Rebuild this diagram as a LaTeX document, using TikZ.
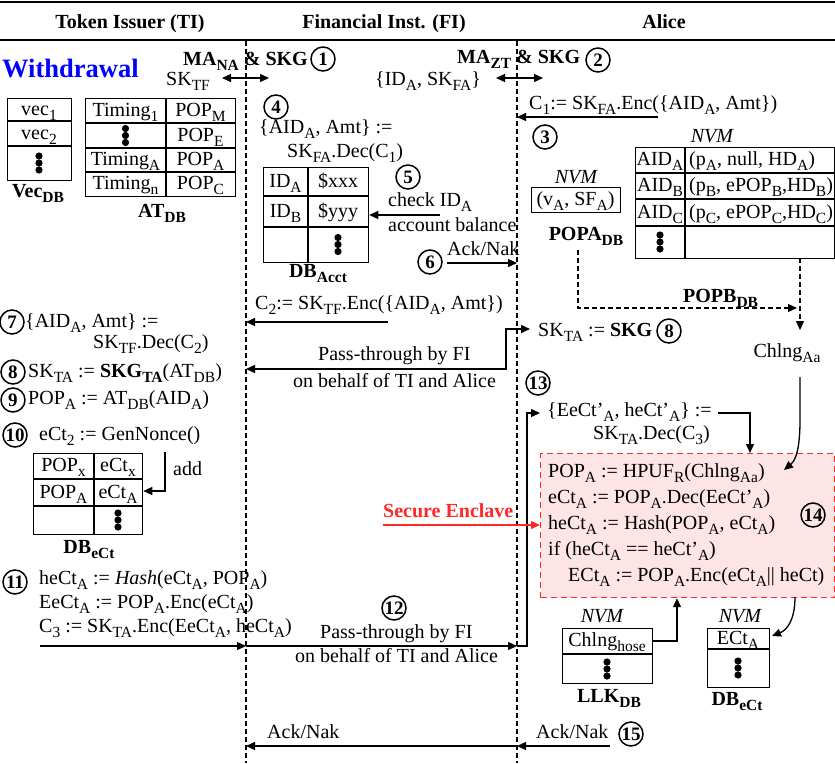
\documentclass[tikz,border=0pt]{standalone}
\usepackage{fontspec}
\setmainfont{Liberation Serif}
\usetikzlibrary{arrows.meta}
\newcommand\mainsz{\fontsize{20}{24}\selectfont}
\newcommand\ssub[1]{\raisebox{-5pt}{\fontsize{15.5}{15.5}\selectfont #1}}
\definecolor{encfill}{RGB}{253,228,229}
\definecolor{encred}{RGB}{255,40,40}
\definecolor{wblue}{RGB}{0,0,255}
\begin{document}
\begin{tikzpicture}[x=1pt,y=-1pt,
  txt/.style={inner sep=0pt,anchor=base west,font=\mainsz},
  btxtw/.style={inner sep=0pt,anchor=base west,font=\mainsz\bfseries},
  ctxt/.style={inner sep=0pt,anchor=base,font=\mainsz},
  btxt/.style={inner sep=0pt,anchor=base,font=\mainsz\bfseries},
  nvm/.style={inner sep=0pt,anchor=base,font=\mainsz\itshape},
  num/.style={circle,draw,line width=1.5pt,inner sep=0pt,minimum size=24pt,font=\bfseries\fontsize{19}{19}\selectfont},
  tbl/.style={draw,line width=1.3pt,inner sep=0pt,anchor=north west},
  tline/.style={line width=1.3pt},
  arr/.style={line width=1.3pt,-{Triangle[length=9pt,width=8pt]}},
  darr/.style={line width=1.3pt,{Triangle[length=9pt,width=8pt]}-{Triangle[length=9pt,width=8pt]}},
  dasharr/.style={line width=1.2pt,dash pattern=on 5pt off 3pt,-{Triangle[length=9pt,width=8pt]}},
  life/.style={line width=1.2pt,dash pattern=on 5pt off 3pt},
  tdots/.pic={\fill (0,-7) circle[radius=3.6pt]; \fill (0,0) circle[radius=3.6pt]; \fill (0,7) circle[radius=3.6pt];}
]
\useasboundingbox (0,0) rectangle (835,763);

% header
\draw[line width=2.2pt] (0,2) -- (835,2);
\draw[line width=2pt] (0,40) -- (835,40);
\node[btxt] (hti) at (130,28) {Token Issuer (TI)};
\node[btxt] (hfi) at (384,28) {Financial Inst. (FI)};
\node[btxt] (hal) at (664,28) {Alice};

% lifelines
\coordinate (la0) at (246,41); \coordinate (la1) at (246,763);
\coordinate (lb0) at (517,41); \coordinate (lb1) at (517,763);
\draw[life] (la0) -- (la1);
\draw[life] (lb0) -- (lb1);

\node[inner sep=0pt,anchor=base west,font=\fontsize{26.5}{26.5}\selectfont\bfseries,text=wblue] (wd) at (2,77) {Withdrawal};

% step 1
\node[btxtw] (ma1) at (183,65) {MA\ssub{NA} \& SKG};
\node[num] (n1) at (323,59) {1};
\node[txt] (sktf) at (166,85) {SK\ssub{TF}};
\coordinate (d1a) at (222,78); \coordinate (d1b) at (269,78);
\draw[darr] (d1a) -- (d1b);

% step 2
\node[btxtw] (ma2) at (457,63) {MA\ssub{ZT} \& SKG};
\node[num] (n2) at (598,60) {2};
\node[txt] (idsk) at (375,85) {\{ID\ssub{A}, SK\ssub{FA}\}};
\coordinate (d2a) at (496,78); \coordinate (d2b) at (543,78);
\draw[darr] (d2a) -- (d2b);

% step 3
\node[txt] (c1) at (529,109) {C\ssub{1}:= SK\ssub{FA}.Enc(\{AID\ssub{A}, Amt\})};
\coordinate (a3) at (658,117);
\draw[arr] (a3) -- (a3 -| lb0);
\node[num] (n3) at (545,137) {3};

% step 4
\node[num] (n4) at (276,107) {4};
\node[txt] (dec1a) at (259,133) {\{AID\ssub{A}, Amt\} :=};
\node[txt] (dec1b) at (287,157) {SK\ssub{FA}.Dec(C\ssub{1})};

% Vec DB
\node[tbl,minimum width=64pt,minimum height=82pt] (vec) at (7,98) {};
\draw[tline] (7,121) -- (71,121) (7,146) -- (71,146);
\node[ctxt] (vec1) at (39,115) {vec\ssub{1}};
\node[ctxt] (vec2) at (39,139) {vec\ssub{2}};
\pic at (39,163) {tdots};
\node[btxt] (veclbl) at (38,197) {Vec\ssub{DB}};

% AT DB
\node[tbl,minimum width=150pt,minimum height=98pt] (at) at (85,98) {};
\draw[tline] (166,98) -- (166,196) (85,123) -- (235,123) (85,148) -- (235,148) (85,172) -- (235,172);
\node[ctxt] (at11) at (125.5,116) {Timing\ssub{1}};
\node[ctxt] (at12) at (200.5,116) {POP\ssub{M}};
\pic at (125.5,135.5) {tdots};
\node[ctxt] (at22) at (200.5,141) {POP\ssub{E}};
\node[ctxt] (at31) at (125.5,165) {Timing\ssub{A}};
\node[ctxt] (at32) at (200.5,165) {POP\ssub{A}};
\node[ctxt] (at41) at (125.5,189) {Timing\ssub{n}};
\node[ctxt] (at42) at (200.5,189) {POP\ssub{C}};
\node[btxt] (atlbl) at (162,217) {AT\ssub{DB}};

% DB Acct
\node[tbl,minimum width=105pt,minimum height=95pt] (acct) at (263,167) {};
\draw[tline] (308,167) -- (308,262) (263,196) -- (368,196) (263,227) -- (368,227);
\node[ctxt] (ac11) at (285.5,187) {ID\ssub{A}};
\node[ctxt] (ac12) at (338,187) {\$xxx};
\node[ctxt] (ac21) at (285.5,217) {ID\ssub{B}};
\node[ctxt] (ac22) at (338,217) {\$yyy};
\pic at (338,244.5) {tdots};
\node[btxt] (acctlbl) at (318,277) {DB\ssub{Acct}};

% step 5
\node[num] (n5) at (408,177) {5};
\node[txt] (chk1) at (388,206) {check ID\ssub{A}};
\node[txt] (chk2) at (388,231) {account balance};
\coordinate (a5) at (440,215);
\draw[arr] (a5) -- (a5 -| acct.east);

% step 6
\node[num] (n6) at (430,262) {6};
\node[txt] (ack6) at (447,255) {Ack/Nak};
\coordinate (a6) at (447,263);
\draw[arr] (a6) -- (a6 -| lb0);

% POPA
\node[nvm] (nvm1) at (576,183) {NVM};
\node[tbl,minimum width=89pt,minimum height=25pt] (popa) at (531,187) {};
\node[ctxt] (popav) at (575.5,205) {(v\ssub{A}, SF\ssub{A})};
\node[btxt] (popalbl) at (586,240) {POPA\ssub{DB}};

% POPB table
\node[nvm] (nvm2) at (712,142) {NVM};
\node[tbl,minimum width=199pt,minimum height=111pt] (popb) at (635,147) {};
\draw[tline] (685,147) -- (685,258) (635,173) -- (834,173) (635,199) -- (834,199) (635,226) -- (834,226);
\node[ctxt] (pb11) at (660,165.5) {AID\ssub{A}};
\node[txt] (pb12) at (689,165.5) {(p\ssub{A}, null, HD\ssub{A})};
\node[ctxt] (pb21) at (660,191.5) {AID\ssub{B}};
\node[txt] (pb22) at (689,191.5) {(p\ssub{B}, ePOP\ssub{B},HD\ssub{B})};
\node[ctxt] (pb31) at (660,218) {AID\ssub{C}};
\node[txt] (pb32) at (689,218) {(p\ssub{C}, ePOP\ssub{C},HD\ssub{C})};
\pic at (660,242) {tdots};
\node[btxtw] (popblbl) at (683,302) {POPB\ssub{DB}};

\coordinate (pa1) at (578,250); \coordinate (pa2) at (797,308);
\draw[dasharr] (pa1) |- (pa2);
\coordinate (pb1) at (800,258); \coordinate (pb2) at (800,330);
\draw[dasharr] (pb1) -- (pb2);
\node[ctxt] (chlng) at (787,357) {Chlng\ssub{Aa}};

% step 7-9 (TI)
\node[num] (n7) at (12,322) {7};
\node[txt] (dec2a) at (25,327) {\{AID\ssub{A}, Amt\} :=};
\node[txt] (dec2b) at (93,348) {SK\ssub{TF}.Dec(C\ssub{2})};
\node[num] (n8a) at (13,372) {8};
\node[txt] (skgta) at (28,377) {SK\ssub{TA} := \textbf{SKG\ssub{TA}}(AT\ssub{DB})};
\node[num] (n9) at (13,400) {9};
\node[txt] (popat) at (28,404) {POP\ssub{A} := AT\ssub{DB}(AID\ssub{A})};

% C2
\node[txt] (c2) at (255,309) {C\ssub{2}:= SK\ssub{TF}.Enc(\{AID\ssub{A}, Amt\})};
\coordinate (a7) at (388,322);
\draw[arr] (a7) -- (a7 -| la0);

% pass-through 1
\node[txt] (pt1a) at (318,360) {Pass-through by FI};
\node[txt] (pt1b) at (293,387) {on behalf of TI and Alice};
\node[txt] (skta) at (538,336) {SK\ssub{TA} := \textbf{SKG}};
\node[num] (n8b) at (669,331) {8};
\coordinate (p1a) at (246,369); \coordinate (p1b) at (506,369); \coordinate (p1c) at (506,329); \coordinate (p1d) at (530,329);
\draw[darr] (p1a) -- (p1b) -- (p1c) -- (p1d);

% step 10
\node[num] (n10) at (15,435) {10};
\node[txt] (nonce) at (39,440) {eCt\ssub{2} := GenNonce()};
\node[tbl,minimum width=109pt,minimum height=81pt] (dbect) at (33,453) {};
\draw[tline] (94,453) -- (94,534) (33,479) -- (142,479) (33,506) -- (142,506);
\node[ctxt] (de11) at (63.5,471.5) {POP\ssub{x}};
\node[ctxt] (de12) at (118,471.5) {eCt\ssub{x}};
\node[ctxt] (de21) at (63.5,498) {POP\ssub{A}};
\node[ctxt] (de22) at (118,498) {eCt\ssub{A}};
\pic at (118,520) {tdots};
\node[btxt] (dbectlbl) at (89,553) {DB\ssub{eCt}};
\coordinate (ad1) at (165,452); \coordinate (ad2) at (165,491);
\draw[arr] (ad1) -- (ad2) -- (ad2 -| dbect.east);
\node[txt] (add) at (173,475) {add};

% step 11
\node[num] (n11) at (15,582) {11};
\node[txt] (hect) at (39,584) {heCt\ssub{A} := \textit{Hash}(eCt\ssub{A}, POP\ssub{A})};
\node[txt] (eect) at (39,608) {EeCt\ssub{A} := POP\ssub{A}.Enc(eCt\ssub{A})};
\node[txt] (c3) at (39,632) {C\ssub{3} := SK\ssub{TA}.Enc(EeCt\ssub{A}, heCt\ssub{A})};
\coordinate (s11) at (40,646);
\draw[arr] (s11) -- (s11 -| la0);
\draw[arr] (s11 -| la0) -- (s11 -| lb0);
\coordinate (s12a) at (527,646); \coordinate (s12b) at (540,413);
\draw[arr] (s11 -| lb0) -- (s12a) |- (s12b);

% step 12
\node[num] (n12) at (394,608) {12};
\node[txt] (pt2a) at (320,638) {Pass-through by FI};
\node[txt] (pt2b) at (295,662) {on behalf of TI and Alice};

% step 13
\node[num] (n13) at (538,383) {13};
\node[txt] (dec3a) at (547,416) {\{EeCt’\ssub{A}, heCt’\ssub{A}\} :=};
\node[txt] (dec3b) at (593,439) {SK\ssub{TA}.Dec(C\ssub{3})};

% enclave
\node[draw=encred,fill=encfill,line width=1.2pt,dash pattern=on 6pt off 4pt,minimum width=294pt,minimum height=144pt,inner sep=0pt,anchor=north west] (encl) at (540,453) {};
\node[txt] (e1) at (548,477) {POP\ssub{A} := HPUF\ssub{R}(Chlng\ssub{Aa})};
\node[txt] (e2) at (548,503) {eCt\ssub{A} := POP\ssub{A}.Dec(EeCt’\ssub{A})};
\node[txt] (e3) at (548,529) {heCt\ssub{A} := Hash(POP\ssub{A}, eCt\ssub{A})};
\node[txt] (e4) at (548,555) {if (heCt\ssub{A} == heCt’\ssub{A})};
\node[txt] (e5) at (568,581) {ECt\ssub{A} := POP\ssub{A}.Enc(eCt\ssub{A}|| heCt)};
\node[num] (n14) at (813,515) {14};

\coordinate (a13) at (718,413);
\draw[arr] (a13) -| (encl.north -| 750,0);
\coordinate (ch1) at (800,377);
\draw[arr] (ch1) -- (800,420) .. controls (800,448) and (796,460) .. (784,470);

\node[inner sep=0pt,anchor=base west,font=\mainsz\bfseries,text=encred] (secl) at (383,517) {Secure Enclave};
\coordinate (sa) at (383,525);
\draw[arr,draw=encred,fill=encred] (sa) -- (sa -| encl.west);

% LLK
\node[nvm] (nvm3) at (602,622) {NVM};
\node[tbl,minimum width=90pt,minimum height=55pt] (llk) at (562,628) {};
\draw[tline] (562,654) -- (652,654);
\node[ctxt] (llk1) at (607,646) {Chlng\ssub{hose}};
\pic at (607,669) {tdots};
\node[btxt] (llklbl) at (609,702) {LLK\ssub{DB}};
\coordinate (lk1) at (652,641); \coordinate (lk2) at (677,641);
\draw[arr] (lk1) -- (lk2) -- (lk2 |- encl.south);

% DB eCt Alice
\node[nvm] (nvm4) at (740,622) {NVM};
\node[tbl,minimum width=62pt,minimum height=59pt] (dbect2) at (707,628) {};
\draw[tline] (707,649) -- (769,649);
\node[ctxt] (dbe1) at (738,644) {ECt\ssub{A}};
\pic at (738,668) {tdots};
\node[btxt] (dbect2lbl) at (737,705) {DB\ssub{eCt}};
\coordinate (ec1) at (795,597); \coordinate (ec2) at (772,636);
\draw[arr] (ec1) .. controls (795,620) and (787,630) .. (ec2);

% step 15
\node[num] (n15) at (631,734) {15};
\node[txt] (ack15) at (536,738) {Ack/Nak};
\node[txt] (ack15b) at (267,738) {Ack/Nak};
\coordinate (a15) at (610,746);
\draw[arr] (a15) -- (a15 -| lb0);
\draw[arr] (a15 -| lb0) -- (a15 -| la0);
\end{tikzpicture}
\end{document}
